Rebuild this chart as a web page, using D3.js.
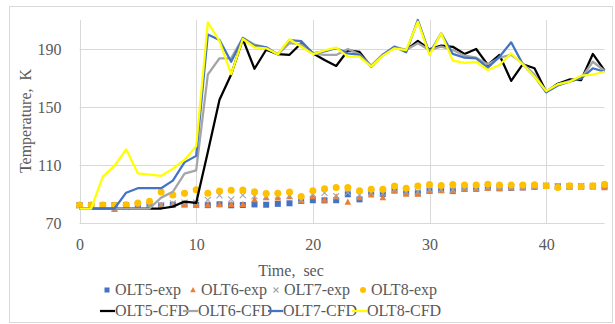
<!DOCTYPE html>
<html>
<head>
<meta charset="utf-8">
<script src="https://cdn.jsdelivr.net/npm/d3@7"></script>
<style>
  body { margin: 0; background: #fff; }
  text { font-family: "Liberation Serif", "Times New Roman", serif; fill: #595959; }
</style>
</head>
<body>
<svg id="chart"></svg>
<script>
var time = [0, 1, 2, 3, 4, 5, 6, 7, 8, 9, 10, 11, 12, 13, 14, 15, 16, 17, 18, 19, 20, 21, 22,
    23, 24, 25, 26, 27, 28, 29, 30, 31, 32, 33, 34, 35, 36, 37, 38, 39, 40, 41, 42, 43, 44, 45];

// experiment (markers)
var olt5Exp = [82.4, 82.4, 82.4, 82.4, 82.4, 82, 82, 82, 82.6, 82.8, 82.6, 82.3, 82.9, 82.2, 82.4, 82.8,
    82.6, 83.2, 83.6, 85.2, 85.7, 85.6, 85.7, 89.8, 86.3, 91.3, 90, 92.4, 91, 90.5, 92.2, 92.6, 92,
    93.6, 93.6, 94.2, 93.9, 94.2, 94.5, 95, 95.6, 95.2, 95.2, 95.2, 95.2, 95.3];
var olt6Exp = [82.4, 82.4, 82.4, 79.5, 81.5, 81.8, 82, 82.3, 82.8, 82.8, 82.6, 82.6, 82.9, 82.9, 82.9, 86.1,
    87.6, 87.3, 88.3, 85.3, 88.3, 85.9, 88, 84.4, 87.6, 89.5, 87.6, 92.3, 90, 90, 92.1, 92.6, 92.1,
    93.5, 93.5, 94, 94, 94.2, 94.5, 95, 95.6, 94.6, 95, 95, 95.3, 94.5];
var olt7Exp = [82, 82, 82, 80, 81, 81.5, 82, 82.5, 83.5, 84, 84, 85.9, 89, 86.3, 89.3, 88.5,
    88.1, 88.7, 88.7, 86, 90, 90.8, 88.5, 91, 89.3, 91, 90.5, 93, 91.5, 91.5, 93, 93, 92.8,
    94, 94, 94.5, 94.5, 94.8, 95, 95.3, 95.7, 95.5, 95.5, 95.5, 95.6, 95.8];
var olt8Exp = [82.4, 82.4, 82.4, 82.2, 82.6, 83.8, 85, 91.4, 89.3, 90.5, 93, 90.5, 92.1, 92.6, 92.8, 91.6,
    90.3, 90.5, 91.4, 88.2, 92.2, 93.6, 94.5, 94.5, 92.2, 93.3, 93.3, 95.6, 93.9, 95.6, 96.5, 95.9, 96.5,
    96.2, 96.2, 96.7, 96.2, 96.2, 96.2, 96.4, 95.7, 94.4, 95.7, 95.2, 95.7, 96.7];

// CFD (lines)
var olt5Cfd = [80, 80, 80, 80, 80, 80, 80, 80, 81.3, 84.8, 83.8, 119, 155, 172.4, 196.8, 176.4,
    189.5, 186.5, 186, 194, 187, 182.4, 178.3, 189, 188, 177.8, 185.9, 191, 189.3, 195.6, 189.8,
    192.4, 191.5, 186.5, 190, 179, 185.9, 168, 179.5, 176.7, 160.6, 166, 169, 168.6, 186.6, 175.3];
var olt6Cfd = [80, 80, 80, 80, 80, 80, 80, 87.5, 91.5, 104, 106.3, 172.4, 183.6, 183.6, 197.8, 193,
    191.2, 186.3, 194, 193.2, 187, 186, 185.9, 190, 186.3, 178.5, 186.3, 191.6, 189.3, 194, 189.3,
    191.6, 189.3, 185.4, 184, 179.4, 184, 186, 180, 172.4, 160.6, 165.6, 167.9, 169.8, 181.2, 175];
var olt7Cfd = [80, 80, 80, 80, 90.9, 94, 94, 94, 99.2, 111.8, 116.3, 200, 196.2, 181.2, 197.4, 192.3,
    191.2, 186.3, 196.2, 195.5, 187, 188.3, 190.5, 187, 185.9, 177.8, 185.9, 191.6, 187.7, 210, 187,
    200.8, 186.6, 184, 183.6, 177.1, 184.7, 194.6, 179.4, 170.9, 160.1, 164.8, 167.4, 169.8, 176.7, 174.3];
var olt8Cfd = [80, 80, 102, 109.5, 120.8, 104.3, 103.4, 102.5, 107.4, 113.5, 122.9, 208.4, 195.5, 172.6, 196.9, 191.2,
    190.5, 186.3, 196.7, 191.6, 186.5, 189, 190.9, 184.7, 184.7, 177.8, 185.4, 190.5, 189.3, 208.8, 185.9,
    200.8, 182, 180.5, 181.2, 175.5, 179, 187, 179.4, 170.9, 161, 165.6, 167.4, 171.6, 172.4, 174.3];

var xTicks = [0, 10, 20, 30, 40];
var yTicks = [70, 110, 150, 190];

var width = 615;
var height = 324;
var margin = {left: 79.5, right: 10.5, top: 20, bottom: 101};

var svg = d3.select("#chart")
    .attr("width", width)
    .attr("height", height);

svg.append("rect")
    .attr("x", 9.5).attr("y", 6.5)
    .attr("width", 603).attr("height", 316)
    .attr("fill", "#fff")
    .attr("stroke", "#d9d9d9");

var x = d3.scaleLinear()
    .domain([0, 45])
    .range([margin.left, width - margin.right]);
var y = d3.scaleLinear()
    .domain([70, 210])
    .range([height - margin.bottom, margin.top]);

var g = svg.append("g");

// gridlines
g.selectAll(".vgrid")
    .data(xTicks)
    .enter().append("line")
    .attr("x1", function (d) { return Math.round(x(d)) + 0.5; })
    .attr("x2", function (d) { return Math.round(x(d)) + 0.5; })
    .attr("y1", y(210)).attr("y2", y(70))
    .attr("stroke", "#d9d9d9");
g.selectAll(".hgrid")
    .data(yTicks)
    .enter().append("line")
    .attr("x1", x(0)).attr("x2", x(45))
    .attr("y1", function (d) { return Math.round(y(d)) + 0.5; })
    .attr("y2", function (d) { return Math.round(y(d)) + 0.5; })
    .attr("stroke", "#d9d9d9");

// axes (labels only)
var yAxis = d3.axisLeft(y).tickValues(yTicks).tickSize(0).tickPadding(18);
var xAxis = d3.axisBottom(x).tickValues(xTicks).tickSize(0).tickPadding(16);

g.append("g")
    .attr("transform", "translate(" + x(0) + ",0)")
    .call(yAxis)
    .call(function (a) { a.select(".domain").remove(); })
    .selectAll("text")
    .style("font-size", "16px")
    .attr("fill", "#595959");
g.append("g")
    .attr("transform", "translate(0," + y(70) + ")")
    .call(xAxis)
    .call(function (a) { a.select(".domain").remove(); })
    .selectAll("text")
    .style("font-size", "16px")
    .attr("fill", "#595959");

// axis titles
svg.append("text")
    .attr("transform", "translate(31," + 121 + ")rotate(-90)")
    .attr("text-anchor", "middle")
    .style("font-size", "16px")
    .style("white-space", "pre")
    .text("Temperature,  K");
svg.append("text")
    .attr("x", 291).attr("y", 276)
    .attr("text-anchor", "middle")
    .style("font-size", "16px")
    .style("white-space", "pre")
    .text("Time,  sec");

// experiment markers
var expSeries = [
    {name: "OLT5-exp", values: olt5Exp, shape: "square", color: "#4472c4"},
    {name: "OLT6-exp", values: olt6Exp, shape: "triangle", color: "#ed7d31"},
    {name: "OLT7-exp", values: olt7Exp, shape: "cross", color: "#a5a5a5"},
    {name: "OLT8-exp", values: olt8Exp, shape: "circle", color: "#ffc000"}
];

function marker(sel, shape, color, s) {
    if (shape === "square") {
        sel.append("rect").attr("x", -s / 2).attr("y", -s / 2)
            .attr("width", s).attr("height", s).attr("fill", color);
    } else if (shape === "triangle") {
        sel.append("path")
            .attr("d", "M0," + (-s * 0.6) + "L" + (s * 0.55) + "," + (s * 0.45) + "L" + (-s * 0.55) + "," + (s * 0.45) + "Z")
            .attr("fill", color);
    } else if (shape === "cross") {
        var h = s / 2;
        sel.append("path")
            .attr("d", "M" + -h + "," + -h + "L" + h + "," + h + "M" + h + "," + -h + "L" + -h + "," + h)
            .attr("stroke", color).attr("stroke-width", 1.1).attr("fill", "none");
    } else {
        sel.append("circle").attr("r", s / 2 + 0.5).attr("fill", color);
    }
}

expSeries.forEach(function (s) {
    g.append("g").selectAll("g")
        .data(s.values)
        .enter().append("g")
        .attr("transform", function (d, i) { return "translate(" + x(time[i]) + "," + y(d) + ")"; })
        .each(function () { marker(d3.select(this), s.shape, s.color, 6); });
});

// CFD lines
var cfdSeries = [
    {name: "OLT5-CFD", values: olt5Cfd, color: "#000000"},
    {name: "OLT6-CFD", values: olt6Cfd, color: "#a5a5a5"},
    {name: "OLT7-CFD", values: olt7Cfd, color: "#4472c4"},
    {name: "OLT8-CFD", values: olt8Cfd, color: "#ffff00"}
];

var line = d3.line()
    .x(function (d, i) { return x(time[i]); })
    .y(function (d) { return y(d); });

cfdSeries.forEach(function (s) {
    g.append("path")
        .datum(s.values)
        .attr("d", line)
        .attr("fill", "none")
        .attr("stroke", s.color)
        .attr("stroke-width", 2.25)
        .attr("stroke-linejoin", "round");
});

// legend
var leg1X = [107, 193, 276, 363];
var leg1 = svg.append("g").selectAll("g")
    .data(expSeries)
    .enter().append("g")
    .attr("transform", function (d, i) { return "translate(" + leg1X[i] + ",290)"; });
leg1.each(function (d) { marker(d3.select(this), d.shape, d.color, 5); });
leg1.append("text")
    .attr("x", 8).attr("y", 5)
    .style("font-size", "16px")
    .text(function (d) { return d.name; });

var leg2X = [100, 183, 268, 352];
var leg2 = svg.append("g").selectAll("g")
    .data(cfdSeries)
    .enter().append("g")
    .attr("transform", function (d, i) { return "translate(" + leg2X[i] + ",311)"; });
leg2.append("line")
    .attr("x1", 0).attr("x2", 15)
    .attr("stroke", function (d) { return d.color; })
    .attr("stroke-width", 2.25);
leg2.append("text")
    .attr("x", 15).attr("y", 5)
    .style("font-size", "16px")
    .text(function (d) { return d.name; });
</script>
</body>
</html>
